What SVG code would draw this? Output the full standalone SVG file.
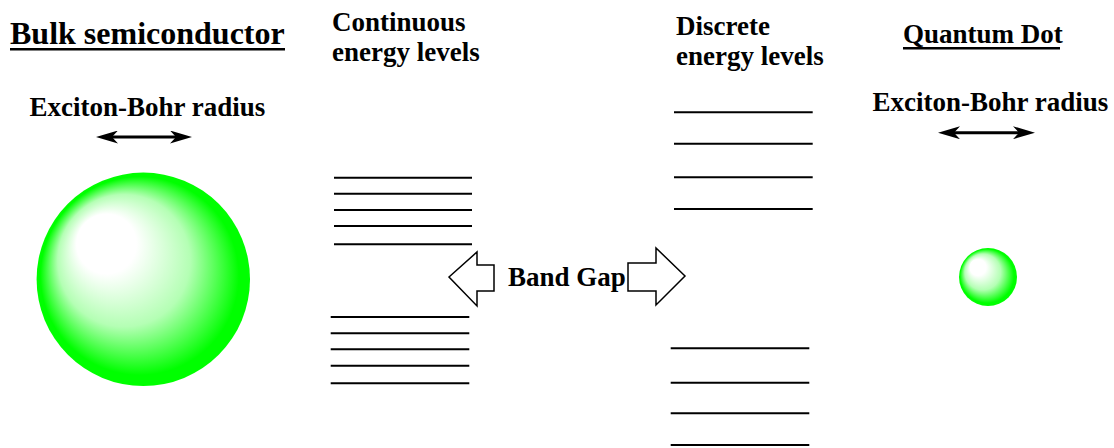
<svg xmlns="http://www.w3.org/2000/svg" width="1114" height="448" viewBox="0 0 1114 448">
  <style>
    .lvl { stroke: #000; stroke-width: 2; }
    .dbl { stroke: #000; stroke-width: 3; marker-start: url(#head); marker-end: url(#head); }
    .big { fill: #fff; stroke: #000; stroke-width: 1.5; stroke-linejoin: miter; }
  </style>
  <defs>
    <radialGradient id="ball" cx="0.5" cy="0.5" r="0.5" fx="0.26" fy="0.27">
      <stop offset="0" stop-color="#ffffff"/>
      <stop offset="0.28" stop-color="#ffffff"/>
      <stop offset="0.62" stop-color="#b4ffb4"/>
      <stop offset="0.93" stop-color="#00ff00"/>
      <stop offset="1" stop-color="#00ff00"/>
    </radialGradient>
    <marker id="head" markerUnits="userSpaceOnUse" markerWidth="22" markerHeight="13" refX="13" refY="6.5" orient="auto-start-reverse" viewBox="0 0 22 13">
      <path d="M0,0 L22,6.5 L0,13 L6,6.5 Z" fill="#000"/>
    </marker>
  </defs>
  <rect width="1114" height="448" fill="#fff"/>

  <g id="bulk-title">
    <text x="10" y="44" font-family="'Liberation Serif', serif" font-weight="bold" font-size="32">Bulk semiconductor</text>
    <rect x="10" y="48" width="275" height="2.5" fill="#000"/>
  </g>
  <g id="bulk-radius">
    <text x="29.5" y="116" font-family="'Liberation Serif', serif" font-weight="bold" font-size="27">Exciton-Bohr radius</text>
    <line class="dbl" x1="105" y1="137" x2="183" y2="137"/>
  </g>
  <g id="bulk-sphere">
    <circle cx="143.3" cy="279.3" r="106.7" fill="url(#ball)"/>
  </g>

  <g id="continuous-title">
    <text x="332" y="31" font-family="'Liberation Serif', serif" font-weight="bold" font-size="27">Continuous</text>
    <text x="332" y="61" font-family="'Liberation Serif', serif" font-weight="bold" font-size="27">energy levels</text>
  </g>
  <g id="continuous-levels">
    <line class="lvl" x1="334" y1="177.7" x2="472" y2="177.7"/>
    <line class="lvl" x1="334" y1="193.7" x2="472" y2="193.7"/>
    <line class="lvl" x1="334" y1="210" x2="472" y2="210"/>
    <line class="lvl" x1="334" y1="226" x2="472" y2="226"/>
    <line class="lvl" x1="334" y1="244.3" x2="472" y2="244.3"/>
    <line class="lvl" x1="330.7" y1="317" x2="469.3" y2="317"/>
    <line class="lvl" x1="330.7" y1="333.3" x2="469.3" y2="333.3"/>
    <line class="lvl" x1="330.7" y1="349.3" x2="469.3" y2="349.3"/>
    <line class="lvl" x1="330.7" y1="365.7" x2="469.3" y2="365.7"/>
    <line class="lvl" x1="330.7" y1="383.3" x2="469.3" y2="383.3"/>
  </g>

  <g id="band-gap">
    <polygon class="big" points="449,277 477,252 477,265 494,265 494,291 477,291 477,306"/>
    <text x="508" y="286" font-family="'Liberation Serif', serif" font-weight="bold" font-size="27">Band Gap</text>
    <polygon class="big" points="628,263 656,263 656,248 685,276 656,305 656,291 628,291"/>
  </g>

  <g id="discrete-title">
    <text x="676" y="35" font-family="'Liberation Serif', serif" font-weight="bold" font-size="27">Discrete</text>
    <text x="676" y="65" font-family="'Liberation Serif', serif" font-weight="bold" font-size="27">energy levels</text>
  </g>
  <g id="discrete-levels">
    <line class="lvl" x1="674" y1="112.3" x2="812.7" y2="112.3"/>
    <line class="lvl" x1="674" y1="143.7" x2="812.7" y2="143.7"/>
    <line class="lvl" x1="674" y1="177.3" x2="812.7" y2="177.3"/>
    <line class="lvl" x1="674" y1="209" x2="812.7" y2="209"/>
    <line class="lvl" x1="670.7" y1="348.3" x2="809.3" y2="348.3"/>
    <line class="lvl" x1="670.7" y1="382.7" x2="809.3" y2="382.7"/>
    <line class="lvl" x1="670.7" y1="413.3" x2="809.3" y2="413.3"/>
    <line class="lvl" x1="670.7" y1="445" x2="809.3" y2="445"/>
  </g>

  <g id="qd-title">
    <text x="903" y="43" font-family="'Liberation Serif', serif" font-weight="bold" font-size="27">Quantum Dot</text>
    <rect x="903" y="47" width="157" height="2.5" fill="#000"/>
  </g>
  <g id="qd-radius">
    <text x="872.5" y="110.5" font-family="'Liberation Serif', serif" font-weight="bold" font-size="27">Exciton-Bohr radius</text>
    <line class="dbl" x1="947" y1="132.7" x2="1026" y2="132.7"/>
  </g>
  <g id="qd-sphere">
    <circle cx="988" cy="277" r="29" fill="url(#ball)"/>
  </g>
</svg>
